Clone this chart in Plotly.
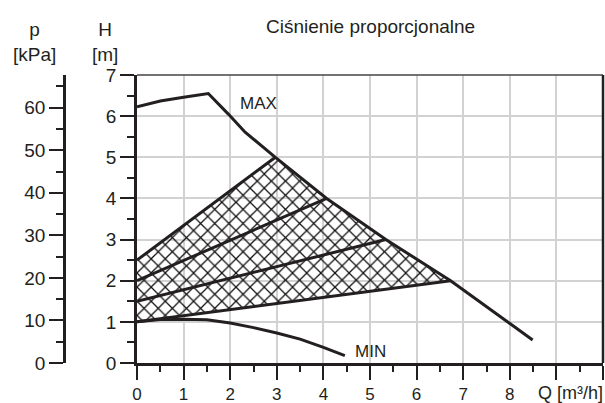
import plotly.graph_objects as go

# Pump curves: flow Q [m³/h] vs head H [m]
q_max = [0, 0.5, 1.0, 1.53, 1.96, 2.32, 2.97, 4.07, 5.34, 6.73, 8.49]
h_max = [6.23, 6.37, 6.46, 6.55, 6.05, 5.61, 5.0, 4.0, 3.0, 2.0, 0.56]

q_min = [0, 0.5, 1.0, 1.5, 2.0, 2.5, 3.0, 3.5, 4.0, 4.46]
h_min = [1.0, 1.06, 1.065, 1.05, 0.97, 0.86, 0.73, 0.58, 0.38, 0.18]

# Proportional-pressure control lines: head at zero flow -> point on MAX curve
prop_h0 = [1.0, 1.5, 2.0, 2.5]
prop_q_end = [6.73, 5.34, 4.07, 2.97]
prop_h_end = [2.0, 3.0, 4.0, 5.0]

q_ticks = [0, 1, 2, 3, 4, 5, 6, 7, 8, 9, 10]
q_ticktext = ["0", "1", "2", "3", "4", "5", "6", "7", "8", "", ""]
h_ticks = [0, 1, 2, 3, 4, 5, 6, 7]
p_ticks = [0, 10, 20, 30, 40, 50, 60]

INK = "#231f20"
GRID = "#d2d2d2"
FONT = "Liberation Sans, Arial, sans-serif"
FS = 19

fig = go.Figure()

# Cross-hatched operating range between lowest and highest control line
poly_q = [0, prop_q_end[0]]
poly_h = [prop_h0[0], prop_h_end[0]]
seg = [(q, h) for q, h in zip(q_max, h_max) if prop_q_end[3] <= q < prop_q_end[0]]
for q, h in reversed(seg):
    poly_q.append(q)
    poly_h.append(h)
poly_q += [0, 0]
poly_h += [prop_h0[3], prop_h0[0]]

fig.add_trace(go.Scatter(
    x=poly_q, y=poly_h, mode="lines", fill="toself",
    line=dict(width=0, color="rgba(0,0,0,0)"),
    fillcolor="rgba(0,0,0,0)",
    fillpattern=dict(shape="x", size=10, solidity=0.24,
                     fgcolor="#111111", fgopacity=1, bgcolor="rgba(0,0,0,0)"),
    hoverinfo="skip", showlegend=False,
))

for h0, qe, he in zip(prop_h0, prop_q_end, prop_h_end):
    fig.add_trace(go.Scatter(x=[0, qe], y=[h0, he], mode="lines",
                             line=dict(color=INK, width=3), showlegend=False))

fig.add_trace(go.Scatter(x=q_max, y=h_max, mode="lines",
                         line=dict(color=INK, width=3), showlegend=False))
fig.add_trace(go.Scatter(x=q_min, y=h_min, mode="lines",
                         line=dict(color=INK, width=3), showlegend=False))

# pressure axis carrier (invisible)
fig.add_trace(go.Scatter(x=[0], y=[0], yaxis="y2", mode="markers",
                         marker=dict(opacity=0), hoverinfo="skip", showlegend=False))

W, H = 605, 403
ML, MR, MT, MB = 64, 0, 75, 40
PW = W - ML - MR
PH = H - MT - MB


def px(x):
    return (x - ML) / PW


def py(y):
    return (H - MB - y) / PH


fig.update_layout(
    width=W, height=H,
    margin=dict(l=ML, r=MR, t=MT, b=MB, autoexpand=False),
    paper_bgcolor="white", plot_bgcolor="white",
    font=dict(family=FONT, size=FS, color=INK),
    xaxis=dict(
        domain=[px(137), px(603)], range=[0, 10],
        tickvals=q_ticks, ticktext=q_ticktext,
        tickfont=dict(size=17),
        showgrid=True, gridcolor=GRID, gridwidth=1.5,
        zeroline=False, showline=True, linecolor=INK, linewidth=2.5,
        ticks="outside", ticklen=14, tickwidth=2, tickcolor=INK,
        minor=dict(dtick=0.5, ticks="outside", ticklen=6, tickwidth=1.5,
                   tickcolor=INK, showgrid=False),
        ticklabelstandoff=0, automargin=False,
    ),
    yaxis=dict(
        range=[0, 7], tickvals=h_ticks,
        showgrid=True, gridcolor=GRID, gridwidth=1.5,
        zeroline=False, showline=True, linecolor=INK, linewidth=2.5,
        ticks="outside", ticklen=14, tickwidth=2, tickcolor=INK,
        minor=dict(dtick=0.5, ticks="outside", ticklen=7, tickwidth=1.5,
                   tickcolor=INK, showgrid=False),
        automargin=False,
    ),
    yaxis2=dict(
        overlaying="y", anchor="free", position=0, side="left",
        range=[0, 67.7], tickvals=p_ticks,
        showgrid=False, zeroline=False, showline=True,
        linecolor=INK, linewidth=2.5,
        ticks="outside", ticklen=14, tickwidth=2, tickcolor=INK,
        minor=dict(dtick=5, ticks="outside", ticklen=7, tickwidth=1.5,
                   tickcolor=INK, showgrid=False),
        automargin=False,
    ),
    showlegend=False,
)

# frame: top and right edges of the plotting area
fig.add_shape(type="line", xref="x domain", yref="y domain",
              x0=0, x1=1, y0=1, y1=1, line=dict(color="#444", width=1.5))
fig.add_shape(type="line", xref="x domain", yref="y domain",
              x0=1, x1=1, y0=0, y1=1, line=dict(color=INK, width=2.5))

ann = dict(showarrow=False, font=dict(family=FONT, size=FS, color=INK))
small = dict(showarrow=False, font=dict(family=FONT, size=17, color=INK))
fig.add_annotation(text="Ciśnienie proporcjonalne", xref="paper", yref="paper",
                   x=px(370), y=py(26), xanchor="center", yanchor="middle", **ann)
fig.add_annotation(text="p<br>[kPa]", xref="paper", yref="paper",
                   x=px(34), y=py(42), xanchor="center", yanchor="middle", **ann)
fig.add_annotation(text="H<br>[m]", xref="paper", yref="paper",
                   x=px(105), y=py(42), xanchor="center", yanchor="middle", **ann)
fig.add_annotation(text="Q [m³/h]", xref="paper", yref="paper",
                   x=px(605), y=py(393), xanchor="right", yanchor="middle",
                   showarrow=False, font=dict(family=FONT, size=18, color=INK))
fig.add_annotation(text="MAX", xref="x", yref="y", x=2.6, y=6.31,
                   xanchor="center", yanchor="middle", **small)
fig.add_annotation(text="MIN", xref="x", yref="y", x=5.02, y=0.28,
                   xanchor="center", yanchor="middle", **small)

fig.write_html("out.html")
